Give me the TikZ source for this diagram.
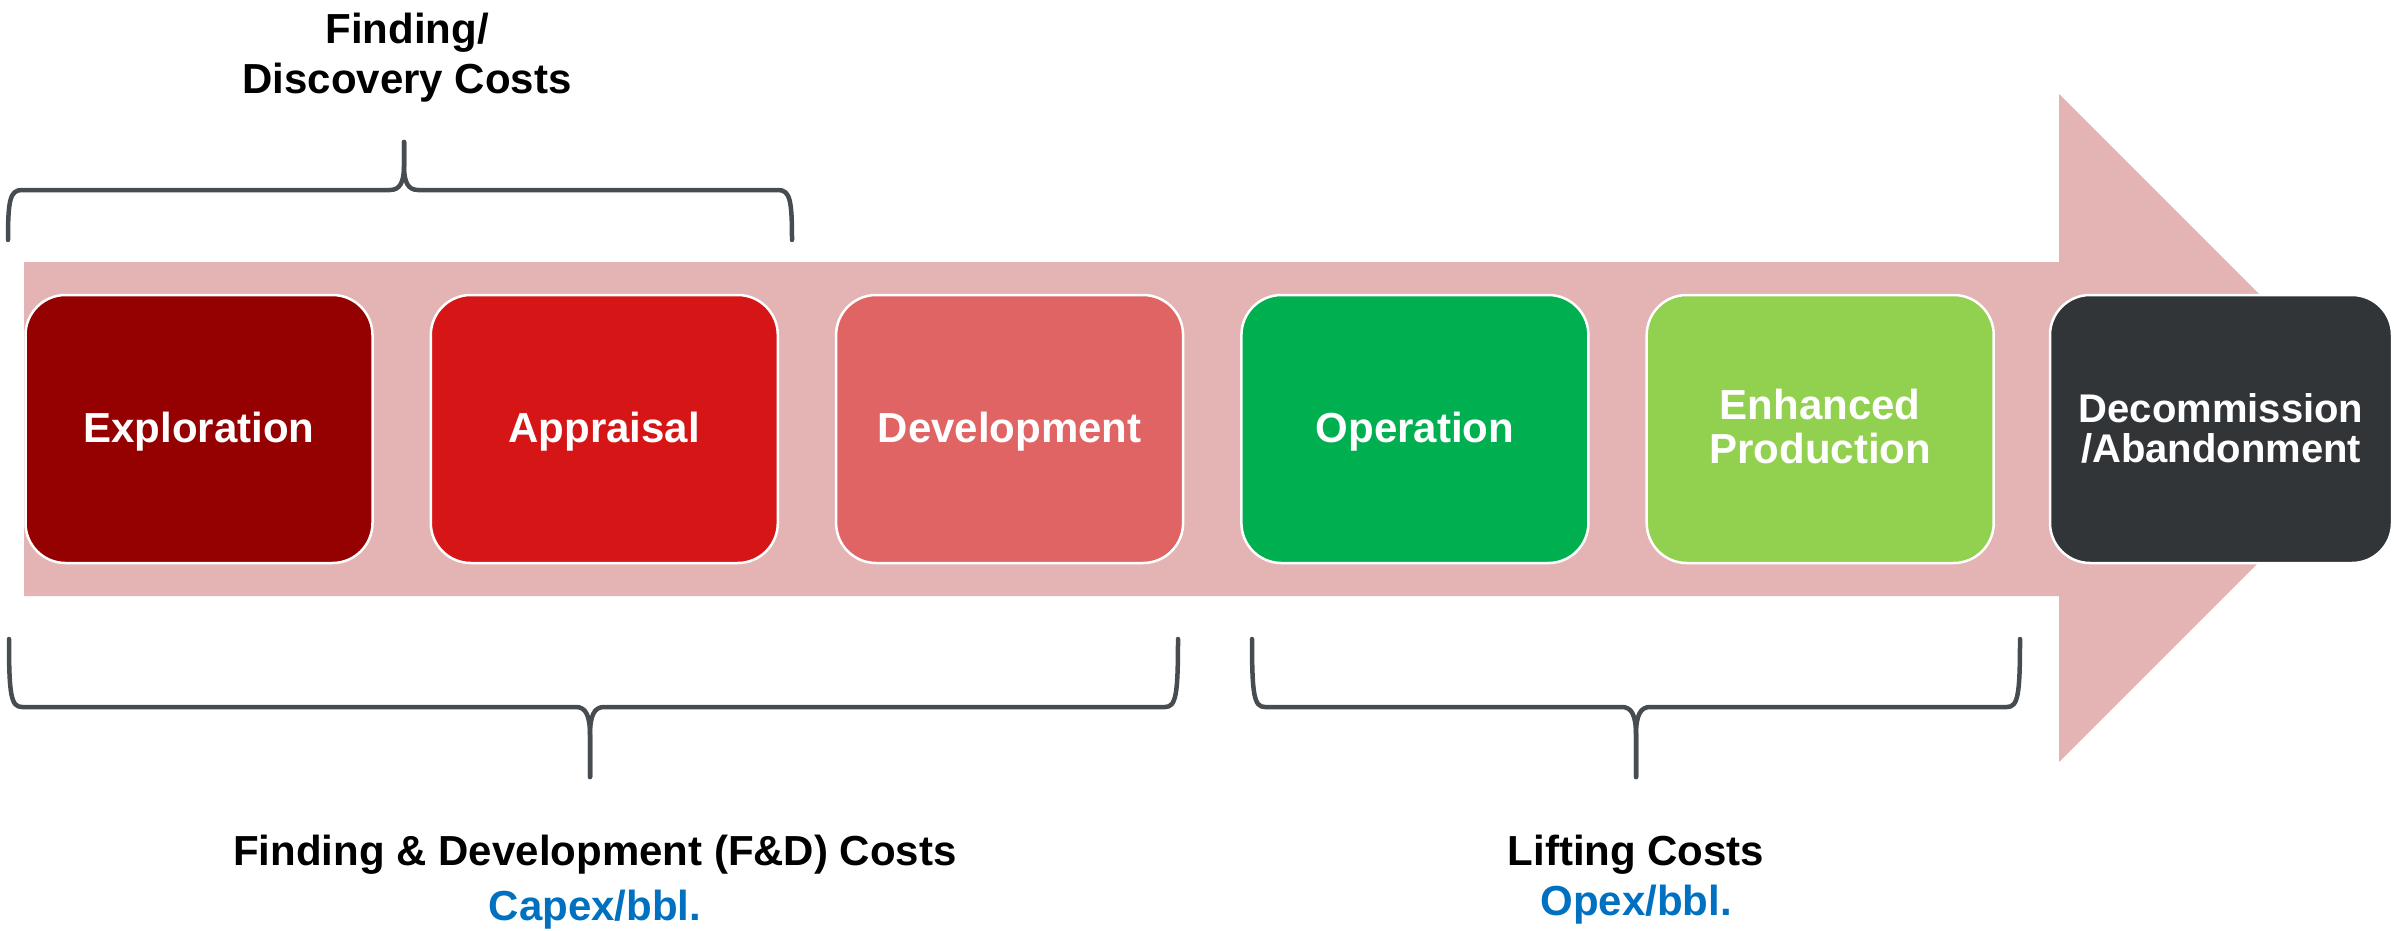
\documentclass[tikz,border=0pt]{standalone}
\usepackage{fontspec}
\setmainfont{Liberation Sans}

\definecolor{arrowpink}{HTML}{E4B3B3}
\definecolor{explore}{HTML}{950000}
\definecolor{appraise}{HTML}{D61616}
\definecolor{develop}{HTML}{E06464}
\definecolor{operate}{HTML}{00B050}
\definecolor{enhance}{HTML}{92D050}
\definecolor{decom}{HTML}{313538}
\definecolor{braceGray}{HTML}{474C50}
\definecolor{capblue}{HTML}{0070C0}

\begin{document}
\begin{tikzpicture}[x=1pt,y=-1pt,
  stage/.style={draw=white, line width=2.5pt, rounded corners=40pt,
    minimum width=347pt, minimum height=268pt, inner sep=0pt},
  boxtext/.style={text=white, font=\fontsize{42}{44}\selectfont\bfseries,
    align=center, anchor=base, inner sep=0pt},
  captext/.style={font=\fontsize{42}{50}\selectfont\bfseries,
    align=center, anchor=base, inner sep=0pt},
  brace/.style={draw=braceGray, line width=4.5pt, line cap=round, line join=round}]

\useasboundingbox (0,0) rectangle (2394,930);

% the big process arrow in the background
\fill[arrowpink] (24,262) -- (2059,262) -- (2059,94) -- (2393,428)
  -- (2059,762) -- (2059,596) -- (24,596) -- cycle;

% life-cycle stages
\node[stage, fill=explore]  (b1) at (199,429)    {};
\node[stage, fill=appraise] (b2) at (604.3,429)  {};
\node[stage, fill=develop]  (b3) at (1009.6,429) {};
\node[stage, fill=operate]  (b4) at (1414.9,429) {};
\node[stage, fill=enhance]  (b5) at (1820.2,429) {};
\node[stage, fill=decom, minimum width=342pt] (b6) at (2221,429) {};

% stage names (base anchor = baseline of the last line)
\node[boxtext, yshift=-13pt] (t1) at (b1.center) {Exploration};
\node[boxtext, yshift=-13pt] (t2) at (b2.center) {Appraisal};
\node[boxtext, yshift=-13pt] (t3) at (b3.center) {Development};
\node[boxtext, yshift=-13pt] (t4) at (b4.center) {Operation};
\node[boxtext, yshift=-34pt] (t5) at (b5.center) {Enhanced\\Production};
\node[boxtext, yshift=-33pt, font=\fontsize{40}{40}\selectfont\bfseries]
  (t6) at (b6.center) {Decommission\\/Abandonment};

% brace over exploration and appraisal
\draw[brace] (8,240) .. controls (8,200) and (10,190) .. (22,190) -- (390,190)
  .. controls (400,190) and (404,182) .. (404,166) -- (404,142);
\draw[brace] (792,240) .. controls (792,200) and (790,190) .. (778,190) -- (418,190)
  .. controls (408,190) and (404,182) .. (404,166) -- (404,142);

% brace under exploration to development
\draw[brace] (9,639) .. controls (9,695) and (11,707) .. (22,707) -- (576,707)
  .. controls (586,707) and (590,716) .. (590,735) -- (590,777);
\draw[brace] (1178,639) .. controls (1178,695) and (1176,707) .. (1165,707) -- (604,707)
  .. controls (594,707) and (590,716) .. (590,735) -- (590,777);

% brace under operation and enhanced production
\draw[brace] (1252,639) .. controls (1252,695) and (1254,707) .. (1265,707) -- (1622,707)
  .. controls (1632,707) and (1636,716) .. (1636,735) -- (1636,777);
\draw[brace] (2020,639) .. controls (2020,695) and (2018,707) .. (2007,707) -- (1650,707)
  .. controls (1640,707) and (1636,716) .. (1636,735) -- (1636,777);

% cost labels
\node[captext] (fdtitle) at (407,93) {Finding/\\Discovery Costs};
\node[captext] (fdcost) at (595,865) {Finding \& Development (F\&D) Costs};
\node[captext, text=capblue] (capex) at (595,920) {Capex/bbl.};
\node[captext] (lift) at (1636,865) {Lifting Costs};
\node[captext, text=capblue] (opex) at (1636,915) {Opex/bbl.};

\end{tikzpicture}
\end{document}
